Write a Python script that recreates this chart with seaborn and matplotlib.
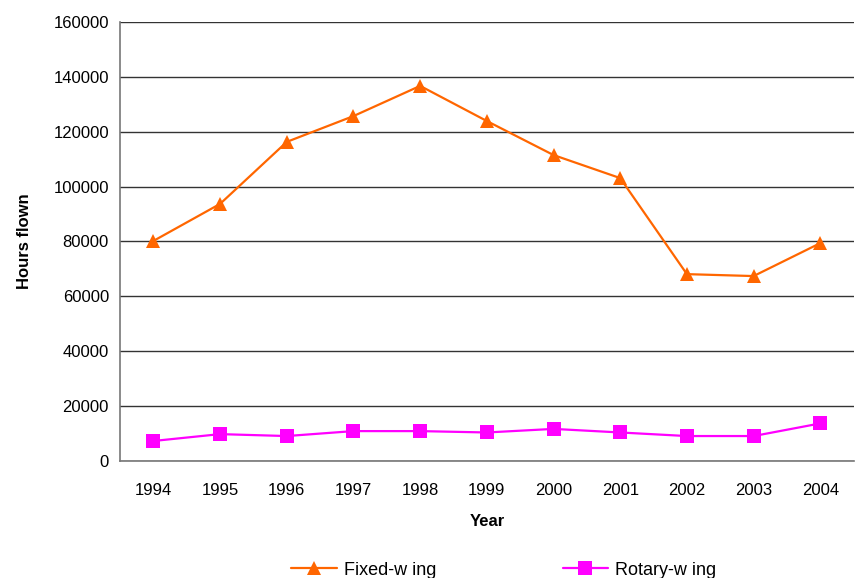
import numpy as np
import pandas as pd
import matplotlib
matplotlib.use("Agg")
import matplotlib.pyplot as plt
import seaborn as sns

years = ["1994", "1995", "1996", "1997", "1998", "1999", "2000", "2001", "2002", "2003", "2004"]
fixed_wing = [80200, 93700, 116300, 125700, 136700, 123900, 111500, 103100, 68100, 67400, 79400]
rotary_wing = [7300, 9800, 9100, 10900, 10900, 10400, 11700, 10400, 9100, 9100, 13700]

df = pd.DataFrame({
    "pos": list(range(len(years))) * 2,
    "hours": fixed_wing + rotary_wing,
    "type": ["Fixed-w ing"] * len(years) + ["Rotary-w ing"] * len(years),
})

sns.set_style("white")
plt.rcParams["font.family"] = ["Liberation Sans", "DejaVu Sans"]
plt.rcParams["text.color"] = "black"
plt.rcParams["xtick.color"] = "black"
plt.rcParams["ytick.color"] = "black"
plt.rcParams["axes.labelcolor"] = "black"

fig = plt.figure(figsize=(8.55, 5.78), dpi=100)
ax = fig.add_axes([0.1404, 0.2024, 0.858, 0.7596])

sns.lineplot(data=df, x="pos", y="hours", hue="type", style="type",
             palette={"Fixed-w ing": "#FF6600", "Rotary-w ing": "#FF00FF"},
             markers={"Fixed-w ing": "^", "Rotary-w ing": "s"}, dashes=False,
             markersize=10, markeredgewidth=0, linewidth=1.6, ax=ax)

ax.set_ylim(0, 160000)
ax.set_yticks(np.arange(0, 160001, 20000))
ax.set_xlim(-0.5, len(years) - 0.5)
ax.set_xticks(np.arange(-0.5, len(years), 1.0))
ax.set_xticklabels([])
ax.set_xticks(range(len(years)), minor=True)
ax.set_xticklabels(years, minor=True, fontsize=12)
ax.tick_params(axis="x", which="major", direction="out", length=5, color="#777777", width=1)
ax.tick_params(axis="x", which="minor", length=0, pad=16)
ax.tick_params(axis="y", direction="out", length=5, color="#777777", width=1, labelsize=12, pad=3)
ax.yaxis.grid(True, color="#333333", linewidth=1)
ax.set_axisbelow(True)

for s in ["top", "right"]:
    ax.spines[s].set_visible(False)
for s in ["left", "bottom"]:
    ax.spines[s].set_color("#777777")
    ax.spines[s].set_linewidth(1.2)

ax.set_xlabel("Year", fontsize=12, fontweight="bold", labelpad=11)
ax.set_ylabel("Hours flown", fontsize=12, fontweight="bold", labelpad=15)

ax.legend(loc="lower center", bbox_to_anchor=(0.523, -0.268), ncol=2, frameon=False,
          fontsize=13, columnspacing=7, handlelength=2.5, handletextpad=0.4,
          borderaxespad=0, borderpad=0)

fig.savefig("out.png", dpi=100)
